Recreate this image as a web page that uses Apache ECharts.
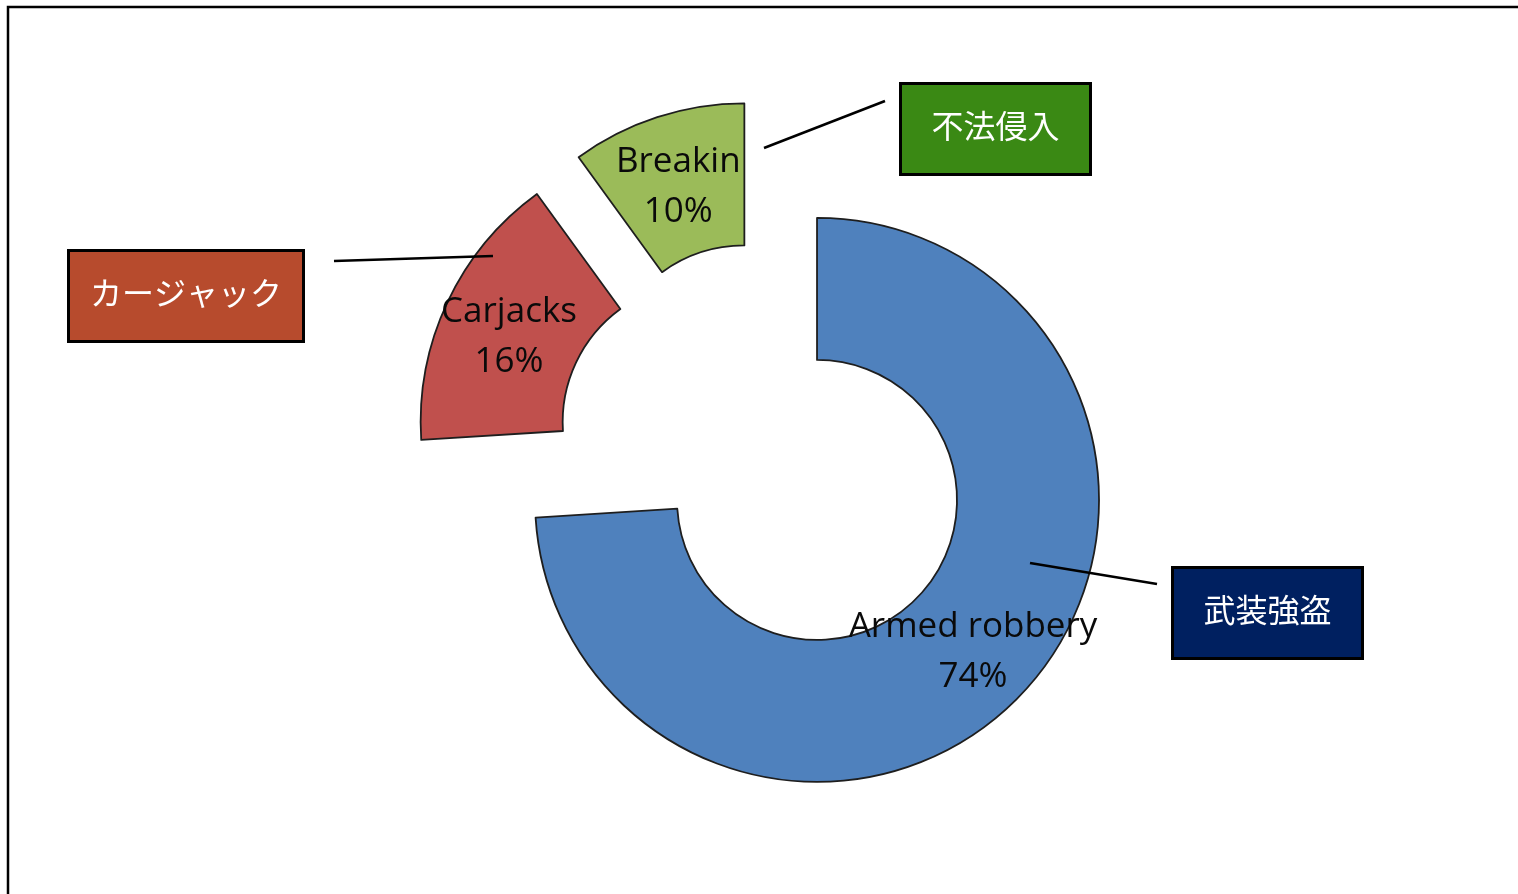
<!DOCTYPE html>
<html>
<head>
<meta charset="utf-8">
<script src="https://cdn.jsdelivr.net/npm/echarts@6/dist/echarts.min.js"></script>
<style>
html,body{margin:0;padding:0;background:#fff;}
#chart{width:1518px;height:894px;}
</style>
</head>
<body>
<div id="chart"></div>
<script>
// ---- data ----
var categories = ['Armed robbery', 'Carjacks', 'Breakin'];
var values = [74, 16, 10];
var sliceColors = ['#4f81bd', '#c0504d', '#9bbb59'];
var calloutLabels = ['武装強盗', 'カージャック', '不法侵入'];
var calloutColors = ['#002060', '#b74b2d', '#3a8914'];

// ---- layout (callouts) ----
var calloutBoxes = [
  {x: 1172.5, y: 567.5, w: 190, h: 91},
  {x: 68.5, y: 250.5, w: 235, h: 91},
  {x: 900.5, y: 83.5, w: 190, h: 91}
];
var calloutLines = [
  [1030, 563, 1157, 584],
  [334, 261, 493, 256],
  [764, 148, 885, 101]
];

var chart = echarts.init(document.getElementById('chart'), null, {renderer: 'canvas'});

var pieData = categories.map(function (c, i) {
  return {
    name: c,
    value: values[i],
    selected: true,
    itemStyle: {color: sliceColors[i]},
    select: {itemStyle: {color: sliceColors[i], borderColor: '#1e1e1e', borderWidth: 1.8}}
  };
});

var graphics = [
  {type: 'rect', shape: {x: 8, y: 7, width: 1600, height: 1000}, style: {fill: 'none', stroke: '#000', lineWidth: 2.5}, z: 10}
];
calloutLines.forEach(function (l) {
  graphics.push({type: 'line', shape: {x1: l[0], y1: l[1], x2: l[2], y2: l[3]}, style: {stroke: '#000', lineWidth: 2.5}, z: 20});
});
calloutBoxes.forEach(function (b, i) {
  graphics.push({type: 'rect', shape: {x: b.x, y: b.y, width: b.w, height: b.h}, style: {fill: calloutColors[i], stroke: '#000', lineWidth: 3}, z: 20});
  graphics.push({type: 'text', x: b.x + b.w / 2, y: b.y + b.h / 2 - 3, style: {text: calloutLabels[i], fill: '#fff', font: '32px "Noto Sans CJK JP"', textAlign: 'center', textVerticalAlign: 'middle'}, z: 21});
});

var labelFont = '"Open Sans", "Noto Sans", sans-serif';

chart.setOption({
  animation: false,
  backgroundColor: '#fff',
  graphic: graphics,
  series: [{
    type: 'pie',
    center: [766, 452],
    radius: [140, 282],
    startAngle: 90,
    clockwise: true,
    selectedMode: 'multiple',
    selectedOffset: 70,
    avoidLabelOverlap: false,
    itemStyle: {borderColor: '#1e1e1e', borderWidth: 1.8},
    label: {
      show: true,
      position: 'inside',
      formatter: '{pad| }\n{t|{b}}\n{t|{d}%}',
      color: '#0a0a0a',
      fontSize: 35,
      fontFamily: labelFont,
      lineHeight: 50,
      rich: {
        pad: {fontSize: 1, lineHeight: 11},
        t: {fontSize: 35, lineHeight: 50, fontFamily: labelFont, color: '#0a0a0a'}
      }
    },
    labelLine: {show: false},
    emphasis: {disabled: true},
    data: pieData
  }]
});
</script>
</body>
</html>
